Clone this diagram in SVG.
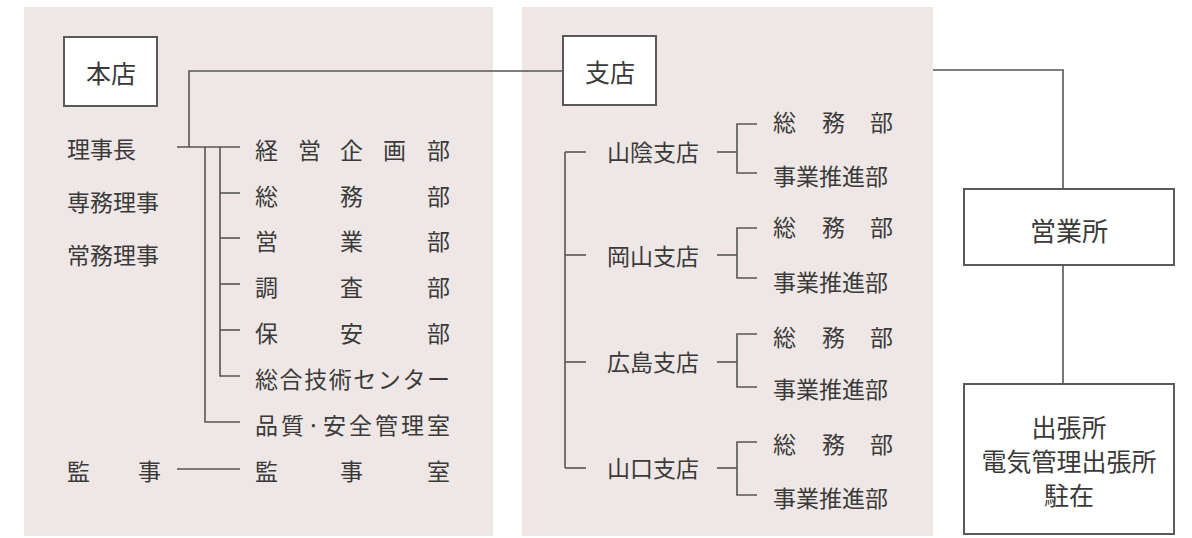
<svg xmlns="http://www.w3.org/2000/svg" width="1192" height="538" viewBox="0 0 1192 538">
<style>
.panel{fill:#efe7e5;}
.box{fill:#ffffff;stroke:#5a5a5a;stroke-width:2;}
.ln{fill:none;stroke:#555555;stroke-width:1.6;}
text{font-family:"Noto Sans CJK JP","Noto Sans CJK SC",sans-serif;font-size:23px;fill:#3a3a3a;dominant-baseline:central;}
.c{text-anchor:middle;}
.b{font-size:25px;}
.r{font-size:26px;}
.s{font-size:25px;}
</style>
<rect width="1192" height="538" fill="#ffffff"/>
<rect class="panel" x="24" y="7" width="469" height="529"/>
<rect class="panel" x="522" y="7" width="411" height="529"/>

<g id="connectors">
<polyline class="ln" points="189,147 189,71 563,71"/>
<line class="ln" x1="177" y1="147" x2="240" y2="147"/>
<polyline class="ln" points="205,147 205,422 240,422"/>
<polyline class="ln" points="220,147 220,376 240,376"/>
<line class="ln" x1="220" y1="193" x2="240" y2="193"/>
<line class="ln" x1="220" y1="238" x2="240" y2="238"/>
<line class="ln" x1="220" y1="284" x2="240" y2="284"/>
<line class="ln" x1="220" y1="330" x2="240" y2="330"/>
<line class="ln" x1="177" y1="469" x2="240" y2="469"/>
<line class="ln" x1="565" y1="152" x2="565" y2="468"/>
<line class="ln" x1="565" y1="152" x2="586" y2="152"/>
<line class="ln" x1="565" y1="255" x2="586" y2="255"/>
<line class="ln" x1="565" y1="362" x2="586" y2="362"/>
<line class="ln" x1="565" y1="468" x2="586" y2="468"/>
<line class="ln" x1="717" y1="152" x2="737" y2="152"/>
<polyline class="ln" points="757,124 737,124 737,173 757,173"/>
<line class="ln" x1="717" y1="255" x2="737" y2="255"/>
<polyline class="ln" points="757,228 737,228 737,278 757,278"/>
<line class="ln" x1="717" y1="362" x2="737" y2="362"/>
<polyline class="ln" points="757,334 737,334 737,387 757,387"/>
<line class="ln" x1="717" y1="468" x2="737" y2="468"/>
<polyline class="ln" points="757,442 737,442 737,495 757,495"/>
<polyline class="ln" points="933,70 1063,70 1063,189"/>
<line class="ln" x1="1063" y1="265" x2="1063" y2="384"/>
</g>

<g id="honten"><rect class="box" x="64" y="37" width="93" height="69"/><text class="c b" x="111" y="72">本店</text></g>
<g id="rijicho"><text x="67" y="148">理事長</text></g>
<g id="senmu"><text x="67" y="201">専務理事</text></g>
<g id="jomu"><text x="67" y="254">常務理事</text></g>
<g id="kanji"><text x="67 138" y="470">監事</text></g>

<g id="keiei"><text x="255 298 340 383 427" y="149">経営企画部</text></g>
<g id="somu"><text x="255 340 427" y="195">総務部</text></g>
<g id="eigyo"><text x="255 340 427" y="240">営業部</text></g>
<g id="chosa"><text x="255 340 427" y="286">調査部</text></g>
<g id="hoan"><text x="255 340 427" y="332">保安部</text></g>
<g id="sogo"><text x="255" y="378" textLength="195" lengthAdjust="spacing">総合技術センター</text></g>
<g id="hinshitsu"><text x="255" y="424" textLength="195" lengthAdjust="spacing">品質·安全管理室</text></g>
<g id="kanjishitsu"><text x="255 340 427" y="470">監事室</text></g>

<g id="shiten"><rect class="box" x="563" y="36" width="93" height="69"/><text class="c b" x="610" y="71">支店</text></g>
<g id="sanin"><text x="607" y="151">山陰支店</text></g>
<g id="okayama"><text x="607" y="255">岡山支店</text></g>
<g id="hiroshima"><text x="607" y="361">広島支店</text></g>
<g id="yamaguchi"><text x="607" y="467">山口支店</text></g>

<g id="sanin-somu"><text x="773 822 870" y="121">総務部</text></g>
<g id="sanin-jigyo"><text x="773" y="175">事業推進部</text></g>
<g id="okayama-somu"><text x="773 822 870" y="226">総務部</text></g>
<g id="okayama-jigyo"><text x="773" y="281">事業推進部</text></g>
<g id="hiroshima-somu"><text x="773 822 870" y="336">総務部</text></g>
<g id="hiroshima-jigyo"><text x="773" y="388">事業推進部</text></g>
<g id="yamaguchi-somu"><text x="773 822 870" y="443">総務部</text></g>
<g id="yamaguchi-jigyo"><text x="773" y="497">事業推進部</text></g>

<g id="eigyosho"><rect class="box" x="964" y="189" width="210" height="76"/><text class="c r" x="1069" y="229">営業所</text></g>
<g id="shuccho"><rect class="box" x="964" y="384" width="210" height="150"/>
<text class="c s" x="1069" y="426">出張所</text>
<text class="c s" x="1069" y="460">電気管理出張所</text>
<text class="c s" x="1069" y="494">駐在</text></g>
</svg>
